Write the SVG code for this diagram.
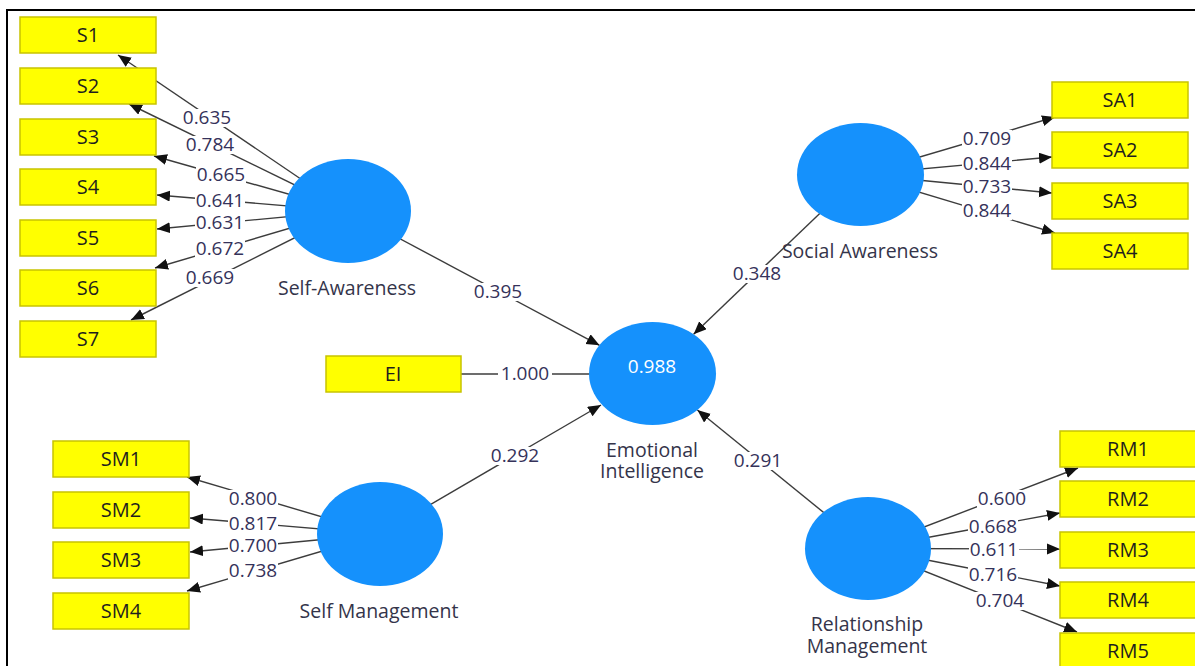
<svg xmlns="http://www.w3.org/2000/svg" width="1195" height="666" viewBox="0 0 1195 666">
<style>
.box{fill:#ffff00;stroke:#c8c400;stroke-width:1.5}
.bt{font-family:"Open Sans","Noto Sans",sans-serif;font-size:20px;fill:#1e1e1e;text-anchor:middle}
.lv{fill:#1591fc}
.nm{font-family:"Open Sans","Noto Sans",sans-serif;font-size:19.5px;fill:#34344a;text-anchor:middle}
.ln{stroke:#3c3c3c;stroke-width:1.4;fill:none}
.ar{marker-end:url(#ah)}
.bg{fill:#ffffff}
.lb{font-family:"Open Sans","Noto Sans",sans-serif;font-size:19px;fill:#35325a;text-anchor:middle}
.r2{font-family:"Open Sans","Noto Sans",sans-serif;font-size:19px;fill:#ffffff;text-anchor:middle}
</style>
<defs>
<marker id="ah" markerUnits="userSpaceOnUse" markerWidth="14" markerHeight="12" refX="13" refY="5.5" orient="auto">
<path d="M0,0 L13,5.5 L0,11 z" fill="#111"/>
</marker>
</defs>
<rect width="1195" height="666" fill="#ffffff"/>
<g id="frame">
<path d="M7,666 V10 H1195" fill="none" stroke="#000" stroke-width="2"/>
</g>
<g id="connectors">
<line class="ln ar" x1="348" y1="211" x2="118" y2="55"/>
<line class="ln ar" x1="348" y1="211" x2="129" y2="104"/>
<line class="ln ar" x1="348" y1="211" x2="154" y2="156"/>
<line class="ln ar" x1="348" y1="211" x2="157" y2="195"/>
<line class="ln ar" x1="348" y1="211" x2="157" y2="229"/>
<line class="ln ar" x1="348" y1="211" x2="155" y2="268"/>
<line class="ln ar" x1="348" y1="211" x2="131" y2="320"/>
<line class="ln ar" x1="860.5" y1="174.5" x2="1055" y2="117"/>
<line class="ln ar" x1="860.5" y1="174.5" x2="1052" y2="157"/>
<line class="ln ar" x1="860.5" y1="174.5" x2="1052" y2="193"/>
<line class="ln ar" x1="860.5" y1="174.5" x2="1055" y2="233"/>
<line class="ln ar" x1="380" y1="534" x2="187" y2="477"/>
<line class="ln ar" x1="380" y1="534" x2="190" y2="518"/>
<line class="ln ar" x1="380" y1="534" x2="190" y2="552"/>
<line class="ln ar" x1="380" y1="534" x2="187" y2="591"/>
<line class="ln ar" x1="868" y1="548.5" x2="1078" y2="468"/>
<line class="ln ar" x1="868" y1="548.5" x2="1060" y2="513"/>
<line class="ln ar" x1="868" y1="548.5" x2="1060" y2="549"/>
<line class="ln ar" x1="868" y1="548.5" x2="1060" y2="586"/>
<line class="ln ar" x1="868" y1="548.5" x2="1077" y2="632"/>
<line class="ln ar" x1="348" y1="211" x2="599.5" y2="345.3"/>
<line class="ln ar" x1="860.5" y1="174.5" x2="693.6" y2="334.2"/>
<line class="ln ar" x1="380" y1="534" x2="601" y2="405"/>
<line class="ln ar" x1="868" y1="548.5" x2="697.4" y2="410"/>
<line class="ln" x1="461" y1="374" x2="590" y2="374"/>
<g id="label-bgs">
<rect class="bg" x="182" y="109" width="50" height="18"/>
<rect class="bg" x="185" y="136" width="50" height="18"/>
<rect class="bg" x="196" y="166" width="50" height="18"/>
<rect class="bg" x="195" y="192" width="50" height="18"/>
<rect class="bg" x="195" y="214" width="50" height="18"/>
<rect class="bg" x="195" y="240" width="50" height="18"/>
<rect class="bg" x="185" y="269" width="50" height="18"/>
<rect class="bg" x="962" y="130" width="50" height="18"/>
<rect class="bg" x="962" y="155" width="50" height="18"/>
<rect class="bg" x="962" y="178" width="50" height="18"/>
<rect class="bg" x="962" y="202" width="50" height="18"/>
<rect class="bg" x="228" y="490" width="50" height="18"/>
<rect class="bg" x="228" y="515" width="50" height="18"/>
<rect class="bg" x="228" y="537" width="50" height="18"/>
<rect class="bg" x="228" y="562" width="50" height="18"/>
<rect class="bg" x="977" y="490" width="50" height="18"/>
<rect class="bg" x="968" y="518" width="50" height="18"/>
<rect class="bg" x="969" y="541" width="50" height="18"/>
<rect class="bg" x="968" y="566" width="50" height="18"/>
<rect class="bg" x="975" y="592" width="50" height="18"/>
<rect class="bg" x="473" y="283" width="50" height="18"/>
<rect class="bg" x="732" y="265" width="50" height="18"/>
<rect class="bg" x="490" y="447" width="50" height="18"/>
<rect class="bg" x="733" y="452" width="50" height="18"/>
<rect class="bg" x="498" y="365" width="54" height="18"/>
</g>
<text class="lb" x="207" y="124">0.635</text>
<text class="lb" x="210" y="151">0.784</text>
<text class="lb" x="221" y="181">0.665</text>
<text class="lb" x="220" y="207">0.641</text>
<text class="lb" x="220" y="229">0.631</text>
<text class="lb" x="220" y="255">0.672</text>
<text class="lb" x="210" y="284">0.669</text>
<text class="lb" x="987" y="145">0.709</text>
<text class="lb" x="987" y="170">0.844</text>
<text class="lb" x="987" y="193">0.733</text>
<text class="lb" x="987" y="217">0.844</text>
<text class="lb" x="253" y="505">0.800</text>
<text class="lb" x="253" y="530">0.817</text>
<text class="lb" x="253" y="552">0.700</text>
<text class="lb" x="253" y="577">0.738</text>
<text class="lb" x="1002" y="505">0.600</text>
<text class="lb" x="993" y="533">0.668</text>
<text class="lb" x="994" y="556">0.611</text>
<text class="lb" x="993" y="581">0.716</text>
<text class="lb" x="1000" y="607">0.704</text>
<text class="lb" x="498" y="298">0.395</text>
<text class="lb" x="757" y="280">0.348</text>
<text class="lb" x="515" y="462">0.292</text>
<text class="lb" x="758" y="467">0.291</text>
<text class="lb" x="525" y="380">1.000</text>
</g>
<g id="self-awareness">
<ellipse class="lv" cx="348" cy="211" rx="63" ry="52"/>
<text class="nm" x="347" y="295">Self-Awareness</text>
</g>
<g id="social-awareness">
<ellipse class="lv" cx="860.5" cy="174.5" rx="63.5" ry="51.5"/>
<text class="nm" x="860" y="258">Social Awareness</text>
</g>
<g id="emotional-intelligence">
<ellipse class="lv" cx="652.5" cy="373.5" rx="63.5" ry="51.5"/>
<text class="r2" x="652" y="373">0.988</text>
<text class="nm" x="652" y="457">Emotional</text>
<text class="nm" x="652" y="478">Intelligence</text>
</g>
<g id="self-management">
<ellipse class="lv" cx="380" cy="534" rx="63" ry="52"/>
<text class="nm" x="379" y="618">Self Management</text>
</g>
<g id="relationship-management">
<ellipse class="lv" cx="868" cy="548.5" rx="63" ry="51.5"/>
<text class="nm" x="867" y="631">Relationship</text>
<text class="nm" x="867" y="653">Management</text>
</g>
<g id="S1"><rect class="box" x="20" y="17" width="136" height="36"/><text class="bt" x="88" y="42">S1</text></g>
<g id="S2"><rect class="box" x="20" y="68" width="136" height="36"/><text class="bt" x="88" y="93">S2</text></g>
<g id="S3"><rect class="box" x="20" y="119" width="136" height="36"/><text class="bt" x="88" y="144">S3</text></g>
<g id="S4"><rect class="box" x="20" y="169" width="136" height="36"/><text class="bt" x="88" y="194">S4</text></g>
<g id="S5"><rect class="box" x="20" y="220" width="136" height="36"/><text class="bt" x="88" y="245">S5</text></g>
<g id="S6"><rect class="box" x="20" y="270" width="136" height="36"/><text class="bt" x="88" y="295">S6</text></g>
<g id="S7"><rect class="box" x="20" y="321" width="136" height="36"/><text class="bt" x="88" y="346">S7</text></g>
<g id="SA1"><rect class="box" x="1052" y="82" width="136" height="36"/><text class="bt" x="1120" y="107">SA1</text></g>
<g id="SA2"><rect class="box" x="1052" y="132" width="136" height="36"/><text class="bt" x="1120" y="157">SA2</text></g>
<g id="SA3"><rect class="box" x="1052" y="183" width="136" height="36"/><text class="bt" x="1120" y="208">SA3</text></g>
<g id="SA4"><rect class="box" x="1052" y="233" width="136" height="36"/><text class="bt" x="1120" y="258">SA4</text></g>
<g id="EI"><rect class="box" x="326" y="356" width="135" height="36"/><text class="bt" x="393" y="381">EI</text></g>
<g id="SM1"><rect class="box" x="53" y="441" width="136" height="36"/><text class="bt" x="121" y="466">SM1</text></g>
<g id="SM2"><rect class="box" x="53" y="492" width="136" height="36"/><text class="bt" x="121" y="517">SM2</text></g>
<g id="SM3"><rect class="box" x="53" y="542" width="136" height="36"/><text class="bt" x="121" y="567">SM3</text></g>
<g id="SM4"><rect class="box" x="53" y="593" width="136" height="36"/><text class="bt" x="121" y="618">SM4</text></g>
<g id="RM1"><rect class="box" x="1060" y="431" width="136" height="36"/><text class="bt" x="1128" y="456">RM1</text></g>
<g id="RM2"><rect class="box" x="1060" y="481" width="136" height="36"/><text class="bt" x="1128" y="506">RM2</text></g>
<g id="RM3"><rect class="box" x="1060" y="532" width="136" height="36"/><text class="bt" x="1128" y="557">RM3</text></g>
<g id="RM4"><rect class="box" x="1060" y="582" width="136" height="36"/><text class="bt" x="1128" y="607">RM4</text></g>
<g id="RM5"><rect class="box" x="1060" y="633" width="136" height="36"/><text class="bt" x="1128" y="658">RM5</text></g>
</svg>
